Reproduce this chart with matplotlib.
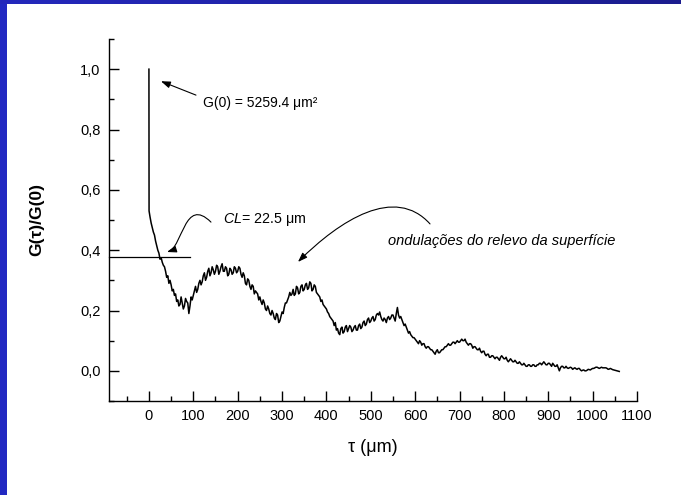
import numpy as np
import matplotlib
matplotlib.use("Agg")
import matplotlib.pyplot as plt
from matplotlib.path import Path
from matplotlib.patches import FancyArrowPatch
from matplotlib.colors import LinearSegmentedColormap
from matplotlib.ticker import MultipleLocator, FuncFormatter

plt.rcParams['font.family'] = ['Liberation Sans', 'DejaVu Sans']
plt.rcParams['mathtext.fontset'] = 'custom'
plt.rcParams['mathtext.rm'] = 'Liberation Sans'
plt.rcParams['mathtext.it'] = 'Liberation Sans:italic'

# spike at tau = 0
tau_head = [0.0, 0.3]
g_head = [1.0, 0.53]

# G(tau)/G(0) read every 2.5 um from 2.5 to 1060 (one row = 25 um)
tau_step = 2.5
g_vals = [
    0.51, 0.49, 0.475, 0.46, 0.45, 0.43, 0.415, 0.40, 0.39, 0.37,
    0.375, 0.36, 0.35, 0.345, 0.33, 0.31, 0.315, 0.29, 0.30, 0.285,
    0.265, 0.27, 0.25, 0.255, 0.23, 0.235, 0.215, 0.22, 0.245, 0.225,
    0.205, 0.215, 0.24, 0.23, 0.225, 0.19, 0.215, 0.245, 0.235, 0.25,
    0.265, 0.28, 0.26, 0.27, 0.29, 0.30, 0.285, 0.295, 0.315, 0.325,
    0.30, 0.31, 0.33, 0.34, 0.315, 0.325, 0.345, 0.335, 0.32, 0.33,
    0.35, 0.345, 0.32, 0.33, 0.345, 0.355, 0.33, 0.33, 0.345, 0.34,
    0.315, 0.32, 0.34, 0.335, 0.32, 0.325, 0.345, 0.34, 0.325, 0.33,
    0.345, 0.34, 0.32, 0.31, 0.325, 0.315, 0.29, 0.285, 0.305, 0.30,
    0.28, 0.27, 0.285, 0.28, 0.255, 0.265, 0.26, 0.255, 0.235, 0.245,
    0.23, 0.22, 0.235, 0.225, 0.205, 0.20, 0.215, 0.205, 0.19, 0.185,
    0.20, 0.19, 0.175, 0.17, 0.19, 0.185, 0.16, 0.165, 0.18, 0.195,
    0.19, 0.21, 0.225, 0.225, 0.235, 0.245, 0.26, 0.25, 0.255, 0.27,
    0.25, 0.255, 0.28, 0.275, 0.255, 0.26, 0.28, 0.285, 0.265, 0.27,
    0.285, 0.29, 0.27, 0.275, 0.295, 0.29, 0.265, 0.27, 0.285, 0.28,
    0.26, 0.255, 0.25, 0.245, 0.23, 0.235, 0.22, 0.215, 0.21, 0.205,
    0.195, 0.19, 0.18, 0.175, 0.17, 0.165, 0.15, 0.16, 0.135, 0.14,
    0.125, 0.12, 0.14, 0.145, 0.125, 0.13, 0.145, 0.15, 0.13, 0.14,
    0.15, 0.145, 0.13, 0.135, 0.145, 0.15, 0.135, 0.135, 0.15, 0.155,
    0.14, 0.145, 0.16, 0.165, 0.15, 0.155, 0.17, 0.175, 0.16, 0.165,
    0.175, 0.18, 0.165, 0.17, 0.185, 0.19, 0.185, 0.195, 0.18, 0.17,
    0.165, 0.175, 0.17, 0.16, 0.175, 0.18, 0.17, 0.175, 0.185, 0.185,
    0.175, 0.165, 0.19, 0.21, 0.185, 0.175, 0.18, 0.17, 0.16, 0.15,
    0.155, 0.145, 0.135, 0.125, 0.13, 0.12, 0.115, 0.11, 0.11, 0.105,
    0.10, 0.095, 0.09, 0.10, 0.095, 0.085, 0.09, 0.09, 0.08, 0.075,
    0.08, 0.08, 0.075, 0.07, 0.07, 0.065, 0.06, 0.055, 0.065, 0.07,
    0.06, 0.06, 0.065, 0.07, 0.07, 0.075, 0.08, 0.08, 0.085, 0.09,
    0.085, 0.085, 0.09, 0.095, 0.095, 0.09, 0.095, 0.10, 0.095, 0.095,
    0.10, 0.105, 0.10, 0.10, 0.105, 0.095, 0.09, 0.085, 0.09, 0.09,
    0.085, 0.075, 0.08, 0.08, 0.075, 0.07, 0.07, 0.075, 0.065, 0.06,
    0.065, 0.065, 0.055, 0.05, 0.055, 0.055, 0.045, 0.045, 0.05, 0.05,
    0.045, 0.04, 0.045, 0.045, 0.04, 0.035, 0.045, 0.05, 0.045, 0.04,
    0.04, 0.045, 0.035, 0.03, 0.035, 0.04, 0.035, 0.03, 0.03, 0.035,
    0.03, 0.025, 0.025, 0.03, 0.025, 0.02, 0.02, 0.025, 0.02, 0.015,
    0.015, 0.02, 0.02, 0.015, 0.015, 0.02, 0.02, 0.015, 0.015, 0.02,
    0.02, 0.025, 0.025, 0.02, 0.025, 0.03, 0.025, 0.02, 0.02, 0.025,
    0.025, 0.02, 0.015, 0.025, 0.02, 0.015, 0.015, 0.02, 0.01, 0.0,
    0.01, 0.015, 0.015, 0.01, 0.01, 0.015, 0.01, 0.008, 0.01, 0.012,
    0.01, 0.005, 0.008, 0.01, 0.007, 0.005, 0.008, 0.008, 0.003, 0.0,
    0.002, 0.003, 0.0, 0.0, 0.002, 0.005, 0.004, 0.003, 0.006, 0.008,
    0.008, 0.01, 0.012, 0.012, 0.01, 0.008, 0.01, 0.012, 0.01, 0.01,
    0.01, 0.01, 0.008, 0.005, 0.006, 0.008, 0.006, 0.004, 0.003, 0.002,
    0.001, 0.0, -0.001, -0.002,
]
tau_vals = tau_step * np.arange(1, len(g_vals) + 1)

tau = np.concatenate([tau_head, tau_vals])
g = np.concatenate([g_head, g_vals])

x_ticks = list(range(0, 1101, 100))
y_ticks = [0.0, 0.2, 0.4, 0.6, 0.8, 1.0]

cl_level = 0.377
cl_line_end = 92

W, H = 681, 495
fig = plt.figure(figsize=(W / 100, H / 100), dpi=100)
fig.patch.set_facecolor('#2229c2')

# white panel, blue frame on top and left
panel = fig.add_axes([7 / W, 0, 1 - 7 / W, 1 - 4 / H], zorder=-2)
panel.axis('off')
panel.add_patch(plt.Rectangle((0, 0), 1, 1, transform=panel.transAxes,
                              facecolor='white', edgecolor='none'))
top = fig.add_axes([0, 1 - 4 / H, 1, 4 / H], zorder=-1)
grad = np.linspace(0, 1, 256).reshape(1, -1)
cmap = LinearSegmentedColormap.from_list('band', ['#2428bc', '#1b1c8e'])
top.imshow(grad, aspect='auto', cmap=cmap)
top.axis('off')

ax = fig.add_axes([109 / W, 1 - 401 / H, (637 - 109) / W, (401 - 39) / H], zorder=1)
ax.set_facecolor('none')
ax.plot(tau, g, color='black', lw=1.1)

ax.set_xlim(-90, 1100)
ax.set_ylim(-0.1, 1.1)
ax.set_xticks(x_ticks)
ax.set_yticks(y_ticks)
ax.xaxis.set_minor_locator(MultipleLocator(50))
ax.yaxis.set_minor_locator(MultipleLocator(0.1))
ax.yaxis.set_major_formatter(FuncFormatter(lambda v, p: f"{v:.1f}".replace('.', ',')))
ax.tick_params(which='both', direction='in', width=1.0, labelsize=10.5, colors='black')
ax.tick_params(which='major', length=7, pad=6)
ax.tick_params(which='minor', length=3.5)
for s in ['top', 'right']:
    ax.spines[s].set_visible(False)
for s in ['left', 'bottom']:
    ax.spines[s].set_linewidth(1.0)

ax.set_ylabel('G(τ)/G(0)', fontsize=12.5, fontweight='bold')
ax.yaxis.set_label_coords(-0.123, 0.5)
ax.set_xlabel('τ (μm)', fontsize=13)
ax.xaxis.set_label_coords(0.5, -0.105)

# correlation length line
ax.plot([-90, cl_line_end], [cl_level, cl_level], color='black', lw=0.9, clip_on=False)

arrow_style = '-|>,head_length=0.7,head_width=0.25'

# G(0) annotation
ax.annotate('', xy=(27, 0.96), xytext=(106, 0.914),
            arrowprops=dict(arrowstyle=arrow_style, color='black', lw=0.8,
                            mutation_scale=8, shrinkA=0, shrinkB=0))
ax.text(122, 0.887, 'G(0) = 5259.4 μm²', fontsize=10, va='center', ha='left')

# CL annotation
ax.text(167, 0.503, r'$\mathit{CL}$= 22.5 μm', fontsize=10.3, va='center', ha='left')
cl_path = Path([(139.8, 0.493), (80, 0.58), (76, 0.41), (40.6, 0.394)],
               [Path.MOVETO, Path.CURVE4, Path.CURVE4, Path.CURVE4])
ax.add_patch(FancyArrowPatch(path=cl_path, arrowstyle=arrow_style, color='black',
                             lw=0.8, mutation_scale=8))

# ripples annotation
ax.text(539, 0.43, 'ondulações do relevo da superfície', fontsize=10.5,
        style='italic', va='center', ha='left')
rip_path = Path([(633.5, 0.487), (554.6, 0.616), (430.6, 0.500), (335.9, 0.361)],
                [Path.MOVETO, Path.CURVE4, Path.CURVE4, Path.CURVE4])
ax.add_patch(FancyArrowPatch(path=rip_path, arrowstyle=arrow_style, color='black',
                             lw=0.8, mutation_scale=8))

fig.savefig('out.png', dpi=100, facecolor=fig.get_facecolor())
